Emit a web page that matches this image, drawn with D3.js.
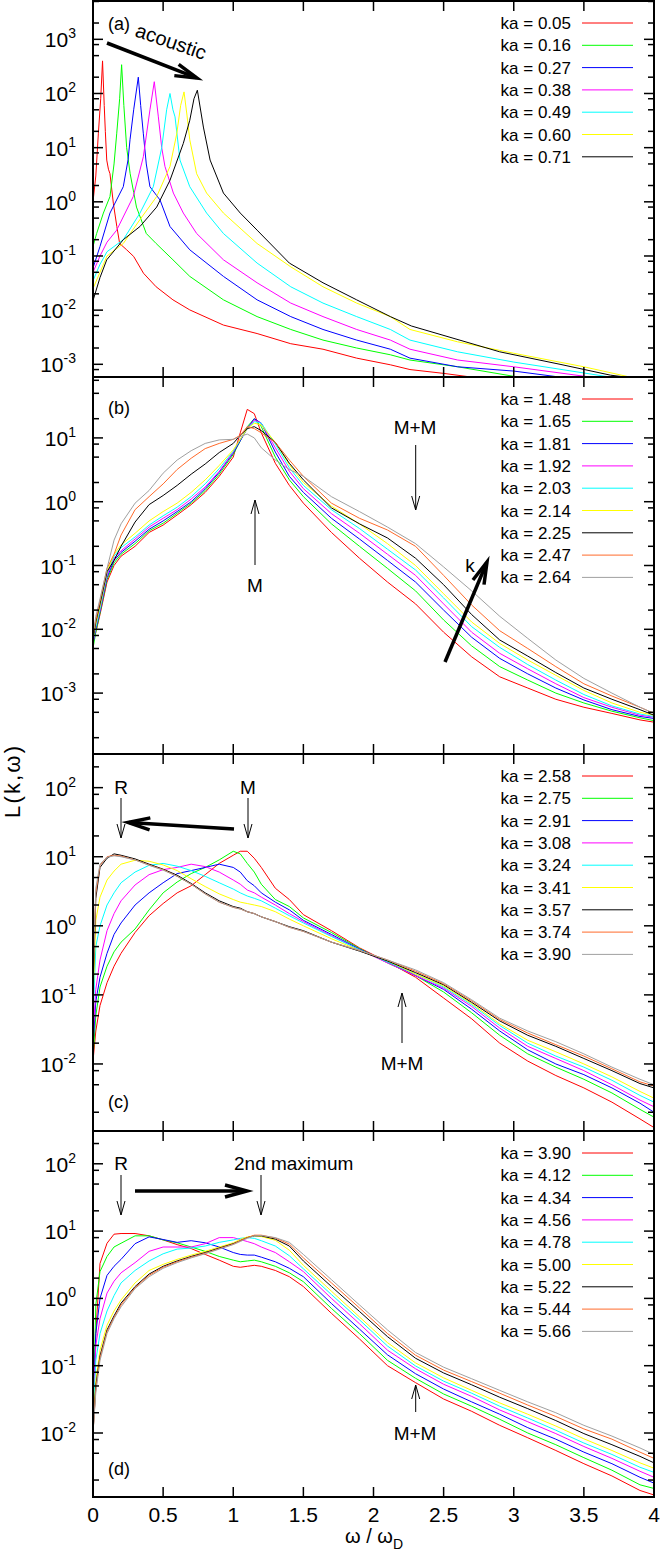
<!DOCTYPE html>
<html><head><meta charset="utf-8">
<script src="https://cdn.jsdelivr.net/npm/d3@7"></script>
<style>
body{margin:0;background:#fff}
svg{display:block}
text{font-family:"Liberation Sans",Arial,Helvetica,sans-serif;fill:#000}
</style></head>
<body><svg id="c" width="665" height="1553"></svg>
<script>
// ---------- data ----------
const xTicks = [0,0.5,1,1.5,2,2.5,3,3.5,4];
const xTickLabels = ["0","0.5","1","1.5","2","2.5","3","3.5","4"];

// panel (a): [omega, L] pairs
const kaA = ["0.05","0.16","0.27","0.38","0.49","0.60","0.71"];
const a005 = [[0,1.0],[0.02,3],[0.038,18],[0.055,80],[0.068,400],[0.08,60],[0.088,20],[0.098,5.9],[0.11,4],[0.121,3.3],[0.145,0.94],[0.17,0.35],[0.19,0.17],[0.24,0.13],[0.29,0.098],[0.36,0.048],[0.45,0.027],[0.57,0.0155],[0.69,0.0101],[0.93,0.0053],[1.17,0.0037],[1.41,0.0024],[1.64,0.0019],[1.88,0.0013],[2.12,0.00098],[2.26,0.0008],[2.5,0.00068],[2.7,0.00058],[3.0,0.00045],[4.0,0.0002]];
const a016 = [[0,0.15],[0.026,0.26],[0.074,0.62],[0.121,1.25],[0.15,5],[0.169,18],[0.19,80],[0.204,340],[0.22,60],[0.24,10],[0.265,3.3],[0.29,1.5],[0.31,0.8],[0.38,0.26],[0.45,0.17],[0.57,0.085],[0.69,0.042],[0.93,0.0155],[1.17,0.0076],[1.41,0.0044],[1.64,0.0028],[1.88,0.002],[2.12,0.0015],[2.26,0.0012],[2.6,0.0009],[3.0,0.0006],[3.3,0.00045],[4.0,0.00025]];
const a027 = [[0,0.06],[0.05,0.15],[0.121,0.62],[0.216,1.9],[0.25,6],[0.264,14],[0.29,50],[0.323,200],[0.34,60],[0.359,18],[0.38,5],[0.406,1.9],[0.478,1.08],[0.549,0.35],[0.69,0.13],[0.93,0.042],[1.17,0.0155],[1.41,0.0076],[1.64,0.0044],[1.88,0.0028],[2.12,0.0019],[2.26,0.0013],[2.6,0.0009],[3.0,0.00075],[3.33,0.00058],[4.0,0.0003]];
const a038 = [[0,0.05],[0.05,0.1],[0.1,0.18],[0.169,0.3],[0.287,1.25],[0.359,6.8],[0.406,50],[0.437,165],[0.466,37],[0.49,10],[0.513,4.5],[0.573,1.45],[0.644,0.62],[0.739,0.26],[0.93,0.085],[1.17,0.032],[1.41,0.0135],[1.64,0.0076],[1.88,0.0044],[2.12,0.0028],[2.26,0.0019],[2.6,0.0012],[3.0,0.0009],[3.55,0.00058],[4.0,0.00035]];
const a049 = [[0,0.035],[0.05,0.07],[0.1,0.12],[0.216,0.2],[0.335,0.62],[0.43,1.9],[0.49,10],[0.525,50],[0.549,100],[0.57,50],[0.585,37],[0.62,5.9],[0.69,1.9],[0.81,0.62],[0.93,0.26],[1.17,0.074],[1.41,0.027],[1.64,0.0135],[1.88,0.0076],[2.12,0.0044],[2.26,0.0028],[2.6,0.0017],[3.0,0.0011],[3.69,0.00058],[4.0,0.00045]];
const a060 = [[0,0.025],[0.05,0.05],[0.1,0.1],[0.216,0.17],[0.335,0.47],[0.454,1.25],[0.549,4.5],[0.597,18],[0.625,60],[0.649,107],[0.67,40],[0.69,14],[0.739,3.3],[0.81,1.45],[0.93,0.62],[1.17,0.17],[1.41,0.063],[1.64,0.027],[1.88,0.0135],[2.12,0.0076],[2.26,0.0044],[2.6,0.0026],[3.0,0.0016],[3.5,0.0009],[3.83,0.00058],[4.0,0.0005]];
const a071 = [[0,0.015],[0.05,0.04],[0.098,0.085],[0.216,0.2],[0.335,0.35],[0.454,0.8],[0.549,2.5],[0.644,12],[0.69,32],[0.72,80],[0.744,115],[0.787,24],[0.835,5.9],[0.93,1.45],[1.05,0.62],[1.17,0.3],[1.4,0.074],[1.64,0.032],[1.88,0.0155],[2.12,0.0076],[2.27,0.0051],[2.9,0.0017],[3.33,0.001],[3.69,0.00063],[4.0,0.0005]];

// shared omega grid for panels (b), (c), (d)
const omegaGrid = [0,0.02,0.05,0.1,0.15,0.2,0.3,0.4,0.5,0.6,0.7,0.8,0.9,1.0,1.05,1.1,1.15,1.2,1.3,1.4,1.5,1.7,1.9,2.1,2.3,2.5,2.7,2.9,3.1,3.3,3.5,3.7,3.9,4.0];

// panel (b)
const kaB = ["1.48","1.65","1.81","1.92","2.03","2.14","2.25","2.47","2.64"];
const b148 = [0.006,0.009,0.017,0.055,0.1,0.14,0.2,0.33,0.43,0.62,0.9,1.4,2.5,5,12,28,24,12,4,1.8,0.95,0.33,0.13,0.055,0.025,0.009,0.0037,0.0018,0.0012,0.0008,0.0006,0.00048,0.00038,0.00035];
const b165 = [0.005,0.009,0.018,0.06,0.11,0.15,0.22,0.35,0.46,0.66,0.95,1.5,2.7,5.5,9,15,20,15,5,2.2,1.2,0.45,0.2,0.09,0.04,0.014,0.0055,0.0026,0.0016,0.001,0.0007,0.00052,0.00041,0.00037];
const b181 = [0.006,0.01,0.019,0.065,0.12,0.16,0.24,0.37,0.5,0.7,1.0,1.6,2.9,5.8,9,14,20,17,6,2.5,1.4,0.55,0.26,0.12,0.055,0.02,0.0075,0.0035,0.002,0.0012,0.00078,0.00055,0.00043,0.0004];
const b192 = [0.006,0.011,0.02,0.07,0.13,0.17,0.26,0.4,0.55,0.75,1.1,1.7,3.0,6,9.5,14,19,17,7,3,1.6,0.65,0.32,0.15,0.07,0.025,0.009,0.0042,0.0024,0.0014,0.00085,0.0006,0.00045,0.00042];
const b203 = [0.0065,0.011,0.021,0.075,0.14,0.19,0.28,0.43,0.6,0.82,1.2,1.9,3.3,6.2,9.5,14,18,17,8,3.4,1.8,0.75,0.38,0.18,0.085,0.031,0.011,0.0052,0.0028,0.0016,0.00095,0.00063,0.00047,0.00043];
const b214 = [0.007,0.012,0.023,0.08,0.15,0.21,0.32,0.5,0.7,0.95,1.4,2.2,3.7,6.5,9.5,14,17,16,8.5,3.8,2.0,0.85,0.45,0.22,0.1,0.036,0.013,0.006,0.0033,0.0019,0.0011,0.0007,0.0005,0.00045];
const b225 = [0.007,0.013,0.025,0.08,0.12,0.2,0.48,0.9,1.25,1.8,2.7,3.9,5.9,8.2,11,14,15,13,8.5,4,2.2,0.8,0.45,0.27,0.13,0.05,0.017,0.0068,0.0038,0.0021,0.0012,0.0008,0.00055,0.00045];
const b247 = [0.008,0.014,0.028,0.09,0.15,0.3,0.75,1.2,1.9,3.2,4.8,6.8,8.2,9.5,11,15,14,12,8.5,4.5,2.5,0.95,0.55,0.36,0.2,0.07,0.024,0.0095,0.005,0.0026,0.0014,0.0009,0.0006,0.00048];
const b264 = [0.008,0.016,0.03,0.09,0.25,0.45,0.95,1.5,2.8,4.5,6.3,8.2,9.3,9.5,10.5,11.5,10,7,4.5,3.2,2.5,1.2,0.7,0.4,0.22,0.095,0.04,0.016,0.0072,0.0033,0.0017,0.001,0.0006,0.00048];

// panel (c)
const kaC = ["2.58","2.75","2.91","3.08","3.24","3.41","3.57","3.74","3.90"];
const c258 = [0.011,0.03,0.07,0.15,0.26,0.4,0.8,1.4,2.1,3.0,3.8,5.5,8,10.5,12,12,9.5,7,3.5,2.4,1.45,0.85,0.48,0.3,0.18,0.09,0.045,0.02,0.011,0.0068,0.0045,0.0028,0.0016,0.0012];
const c275 = [0.012,0.05,0.13,0.26,0.42,0.58,0.9,1.7,3.0,4.3,5.7,7,9,12,11,8,6,4,2.4,1.9,1.3,0.8,0.47,0.29,0.19,0.11,0.055,0.026,0.014,0.009,0.006,0.0038,0.0022,0.0017];
const c291 = [0.018,0.08,0.18,0.4,0.75,1.1,2.0,3.0,4.2,5.7,6.3,7,7.8,7,6,4.5,3.8,3.0,2.2,1.7,1.2,0.75,0.46,0.3,0.19,0.12,0.062,0.03,0.016,0.01,0.007,0.0045,0.0027,0.002];
const c308 = [0.025,0.12,0.32,0.85,1.5,2.3,3.9,5.5,6.5,7,7.8,7.2,6,4.6,4,3.3,3,2.6,2.0,1.5,1.15,0.72,0.45,0.29,0.19,0.125,0.068,0.033,0.018,0.012,0.008,0.005,0.003,0.0024];
const c324 = [0.04,0.5,1.0,2.0,3.0,4.2,6.0,7.5,8,7.3,6.3,5.2,4.2,3.4,3,2.7,2.5,2.3,1.8,1.4,1.1,0.7,0.45,0.3,0.2,0.13,0.072,0.036,0.02,0.013,0.009,0.0058,0.0035,0.0028];
const c341 = [0.08,1.2,2.6,4.6,6.2,7.8,8.9,8.6,7.6,6.3,4.8,3.7,2.9,2.4,2.2,2.1,2.0,1.9,1.6,1.25,1.0,0.65,0.44,0.31,0.2,0.135,0.075,0.038,0.022,0.015,0.01,0.0065,0.004,0.0032];
const c357 = [0.12,2.5,7,9.5,11,10.5,9.3,7.8,6.6,5.4,4.1,3.0,2.3,1.9,1.8,1.6,1.5,1.35,1.15,0.97,0.85,0.58,0.43,0.31,0.21,0.14,0.078,0.042,0.026,0.018,0.012,0.008,0.0052,0.0045];
const c374 = [0.15,3,7.5,10,10.5,10.2,9.0,7.6,6.5,5.2,4.0,2.9,2.2,1.85,1.75,1.6,1.5,1.35,1.15,0.95,0.83,0.58,0.44,0.32,0.22,0.145,0.082,0.044,0.028,0.019,0.013,0.0085,0.0055,0.0048];
const c390 = [0.18,3.5,7.8,9.8,10.3,10,9.0,7.5,6.4,5.2,4.0,2.9,2.2,1.85,1.75,1.6,1.5,1.35,1.15,0.95,0.83,0.58,0.44,0.32,0.23,0.15,0.085,0.046,0.03,0.021,0.014,0.009,0.006,0.005];

// panel (d)
const kaD = ["3.90","4.12","4.34","4.56","4.78","5.00","5.22","5.44","5.66"];
const d390 = [0.01,0.3,3.3,6.6,9,9.2,9.2,8.5,7.4,6.3,5.5,4.5,3.7,3.0,2.9,3.0,3.1,3.0,2.6,2.1,1.5,0.6,0.25,0.1,0.056,0.032,0.021,0.013,0.0085,0.0055,0.0035,0.0023,0.0014,0.0012];
const d412 = [0.015,0.8,2.5,4.2,5.8,6.6,8.5,8.5,7.4,6.7,5.8,5.0,4.2,3.7,3.5,3.6,3.7,3.5,3.0,2.4,1.77,0.71,0.3,0.12,0.065,0.038,0.025,0.016,0.01,0.0067,0.0043,0.0028,0.0017,0.0015];
const d434 = [0.02,0.3,1.0,2.2,3.0,3.8,6.5,8.2,7.5,6.8,7.2,6.7,5.8,4.8,4.5,4.4,4.4,4.1,3.5,2.8,2.1,0.84,0.35,0.145,0.076,0.045,0.029,0.019,0.012,0.0081,0.0052,0.0035,0.0022,0.0018];
const d456 = [0.02,0.2,0.5,1.2,1.8,2.4,3.4,5.0,5.8,5.8,5.8,6.5,8,8,7.5,7,6.5,5.8,4.8,3.5,2.5,1.0,0.42,0.17,0.09,0.053,0.035,0.022,0.0147,0.0098,0.0063,0.0042,0.0027,0.0022];
const d478 = [0.015,0.12,0.3,0.65,1.1,1.7,2.6,3.6,4.6,5.4,5.6,6.0,6.8,7.4,7.8,8,7.8,7.2,6,4.3,2.75,1.14,0.48,0.196,0.099,0.059,0.039,0.025,0.0167,0.011,0.0071,0.0048,0.0031,0.0026];
const d500 = [0.012,0.06,0.17,0.4,0.65,0.95,1.7,2.6,3.2,3.8,4.4,5.0,5.8,6.7,7.5,8.2,8.5,8.3,7.3,5.2,3.1,1.28,0.53,0.22,0.11,0.066,0.043,0.028,0.019,0.0127,0.0082,0.0055,0.0036,0.003];
const d522 = [0.01,0.05,0.14,0.34,0.55,0.85,1.5,2.3,3.0,3.6,4.2,4.8,5.6,6.5,7.2,8.0,8.5,8.5,7.6,6.0,3.6,1.5,0.64,0.27,0.129,0.078,0.052,0.034,0.023,0.0153,0.0098,0.0067,0.0045,0.0036];
const d544 = [0.01,0.045,0.13,0.32,0.52,0.8,1.45,2.2,2.9,3.5,4.1,4.7,5.5,6.4,7.2,8.0,8.7,8.7,7.9,6.4,4.0,1.7,0.72,0.3,0.143,0.086,0.058,0.039,0.026,0.0176,0.0115,0.0081,0.0052,0.0042];
const d566 = [0.01,0.04,0.12,0.3,0.5,0.75,1.4,2.1,2.8,3.4,4.0,4.6,5.4,6.3,7.0,7.8,8.5,8.6,8.0,6.8,4.5,1.9,0.8,0.34,0.157,0.095,0.064,0.043,0.029,0.02,0.013,0.009,0.006,0.0048];

// ---------- styles / layout ----------
const colors = ["#ff0000","#00ff00","#0000ff","#ff00ff","#00ffff","#ffff00","#000000","#ff6a2a","#a0a0a0"];
const FONT_TICK = 21, FONT_LEG = 17;

const svg = d3.select("#c");
const X0 = 93, X1 = 654;
const x = d3.scaleLinear().domain([0,4]).range([X0,X1]);

const gridSeries = arr => arr.map((v,i)=>[omegaGrid[i], v]);

const panels = [
  {id:"a", top:1, bottom:377, domain:[5.83e-4,5100], ka:kaA, series:[a005,a016,a027,a038,a049,a060,a071]},
  {id:"b", top:377, bottom:754, domain:[1.11e-4,90.1], ka:kaB, series:[b148,b165,b181,b192,b203,b214,b225,b247,b264].map(gridSeries)},
  {id:"c", top:754, bottom:1131, domain:[1.07e-3,307], ka:kaC, series:[c258,c275,c291,c308,c324,c341,c357,c374,c390].map(gridSeries)},
  {id:"d", top:1131, bottom:1497, domain:[1.12e-3,307], ka:kaD, series:[d390,d412,d434,d456,d478,d500,d522,d544,d566].map(gridSeries)}
];

const defs = svg.append("defs");

panels.forEach(p => {
  const y = d3.scaleLog().domain(p.domain).range([p.bottom, p.top]);
  const g = svg.append("g");
  defs.append("clipPath").attr("id","clip-"+p.id)
    .append("rect").attr("x",X0).attr("y",p.top).attr("width",X1-X0).attr("height",p.bottom-p.top);

  const line = d3.line().x(d=>x(d[0])).y(d=>y(d[1]));
  const cg = g.append("g").attr("clip-path","url(#clip-"+p.id+")");
  p.series.forEach((s,i)=>{
    cg.append("path").attr("d",line(s)).attr("fill","none")
      .attr("stroke",colors[i]).attr("stroke-width",1).attr("stroke-linejoin","round");
  });

  const lo = Math.floor(Math.log10(p.domain[0])), hi = Math.ceil(Math.log10(p.domain[1]));
  for (let e=lo; e<=hi; e++) {
    const v = Math.pow(10,e);
    if (v>=p.domain[0] && v<=p.domain[1]) {
      const ty = y(v);
      g.append("line").attr("x1",X0).attr("x2",X0+10).attr("y1",ty).attr("y2",ty).attr("stroke","#000").attr("stroke-width",1.5);
      g.append("line").attr("x1",X1).attr("x2",X1-10).attr("y1",ty).attr("y2",ty).attr("stroke","#000").attr("stroke-width",1.5);
      const t = g.append("text").attr("x",76).attr("y",ty+8).attr("text-anchor","end").attr("font-size",FONT_TICK).text("10");
      t.append("tspan").attr("dy",-9).attr("font-size",14).text(String(e));
    }
    [2,5,8].forEach(m=>{
      const mv = m*v;
      if (mv>p.domain[0] && mv<p.domain[1]) {
        const ty = y(mv);
        g.append("line").attr("x1",X0).attr("x2",X0+6).attr("y1",ty).attr("y2",ty).attr("stroke","#000").attr("stroke-width",1.5);
        g.append("line").attr("x1",X1).attr("x2",X1-6).attr("y1",ty).attr("y2",ty).attr("stroke","#000").attr("stroke-width",1.5);
      }
    });
  }
  xTicks.forEach(t=>{
    g.append("line").attr("x1",x(t)).attr("x2",x(t)).attr("y1",p.bottom).attr("y2",p.bottom-10).attr("stroke","#000").attr("stroke-width",1.5);
    g.append("line").attr("x1",x(t)).attr("x2",x(t)).attr("y1",p.top).attr("y2",p.top+10).attr("stroke","#000").attr("stroke-width",1.5);
  });
  g.append("rect").attr("x",X0).attr("y",p.top).attr("width",X1-X0).attr("height",p.bottom-p.top)
    .attr("fill","none").attr("stroke","#000").attr("stroke-width",2);

  p.ka.forEach((k,i)=>{
    const ry = p.top + 22 + i*22.3;
    g.append("text").attr("x",571).attr("y",ry+6).attr("text-anchor","end").attr("font-size",FONT_LEG).text("ka = "+k);
    g.append("line").attr("x1",582).attr("x2",633).attr("y1",ry).attr("y2",ry).attr("stroke",colors[i]).attr("stroke-width",1);
  });
});

xTicks.forEach((t,i)=>{
  svg.append("text").attr("x",x(t)).attr("y",1522).attr("text-anchor","middle").attr("font-size",FONT_TICK).text(xTickLabels[i]);
});
const xl = svg.append("text").attr("x",374).attr("y",1543).attr("text-anchor","middle").attr("font-size",20).text("ω / ω");
xl.append("tspan").attr("dy",6).attr("font-size",14).text("D");
svg.append("text").attr("transform","translate(20,782) rotate(-90)").attr("text-anchor","middle")
  .attr("font-size",22).attr("textLength",72).attr("lengthAdjust","spacing").text("L(k,ω)");

// ---------- annotations ----------
function arrow(x1,y1,x2,y2,w,hl,hw){
  const dx=x2-x1, dy=y2-y1, L=Math.hypot(dx,dy), ux=dx/L, uy=dy/L, nx=-uy, ny=ux;
  svg.append("line").attr("x1",x1).attr("y1",y1).attr("x2",x2-ux*w*0.3).attr("y2",y2-uy*w*0.3)
    .attr("stroke","#000").attr("stroke-width",w);
  const p1=[x2-ux*hl+nx*hw, y2-uy*hl+ny*hw], p2=[x2-ux*hl-nx*hw, y2-uy*hl-ny*hw];
  svg.append("path").attr("d",`M${p1[0]},${p1[1]}L${x2},${y2}L${p2[0]},${p2[1]}`)
    .attr("fill","none").attr("stroke","#000").attr("stroke-width",w).attr("stroke-linejoin","miter");
}
function label(tx,ty,s,size,anchor){
  return svg.append("text").attr("x",tx).attr("y",ty).attr("font-size",size).attr("text-anchor",anchor||"start").text(s);
}
label(108,30,"(a)",18);
svg.append("text").attr("transform","translate(134,36) rotate(19)").attr("font-size",20).text("acoustic");
arrow(107,43,197,78,3.5,22,6);
label(108,414,"(b)",18);
label(415,434,"M+M",19,"middle");
arrow(415.7,445,415.7,510,1,14,4);
label(255,592,"M",19,"middle");
arrow(255,565,255,500,1,14,4);
label(470,572,"k",19,"middle");
arrow(445,662,487,562,3.5,22,6);
label(121,794,"R",19,"middle");
arrow(121,798,121,838,1,14,4);
label(248,794,"M",19,"middle");
arrow(248,798,248,838,1,14,4);
arrow(234,829,128,822.5,3.5,22,6);
label(402,1070,"M+M",19,"middle");
arrow(402,1043,402,993,1,14,4);
label(108,1108,"(c)",18);
label(121,1170,"R",19,"middle");
arrow(121,1175,121,1215,1,14,4);
label(234,1170,"2nd maximum",19);
arrow(261,1175,261,1215,1,14,4);
arrow(135,1191,247,1191,3.5,22,6);
label(415,1440,"M+M",19,"middle");
arrow(415.7,1412,415.7,1385,1,14,4);
label(108,1475,"(d)",18);
</script></body></html>
